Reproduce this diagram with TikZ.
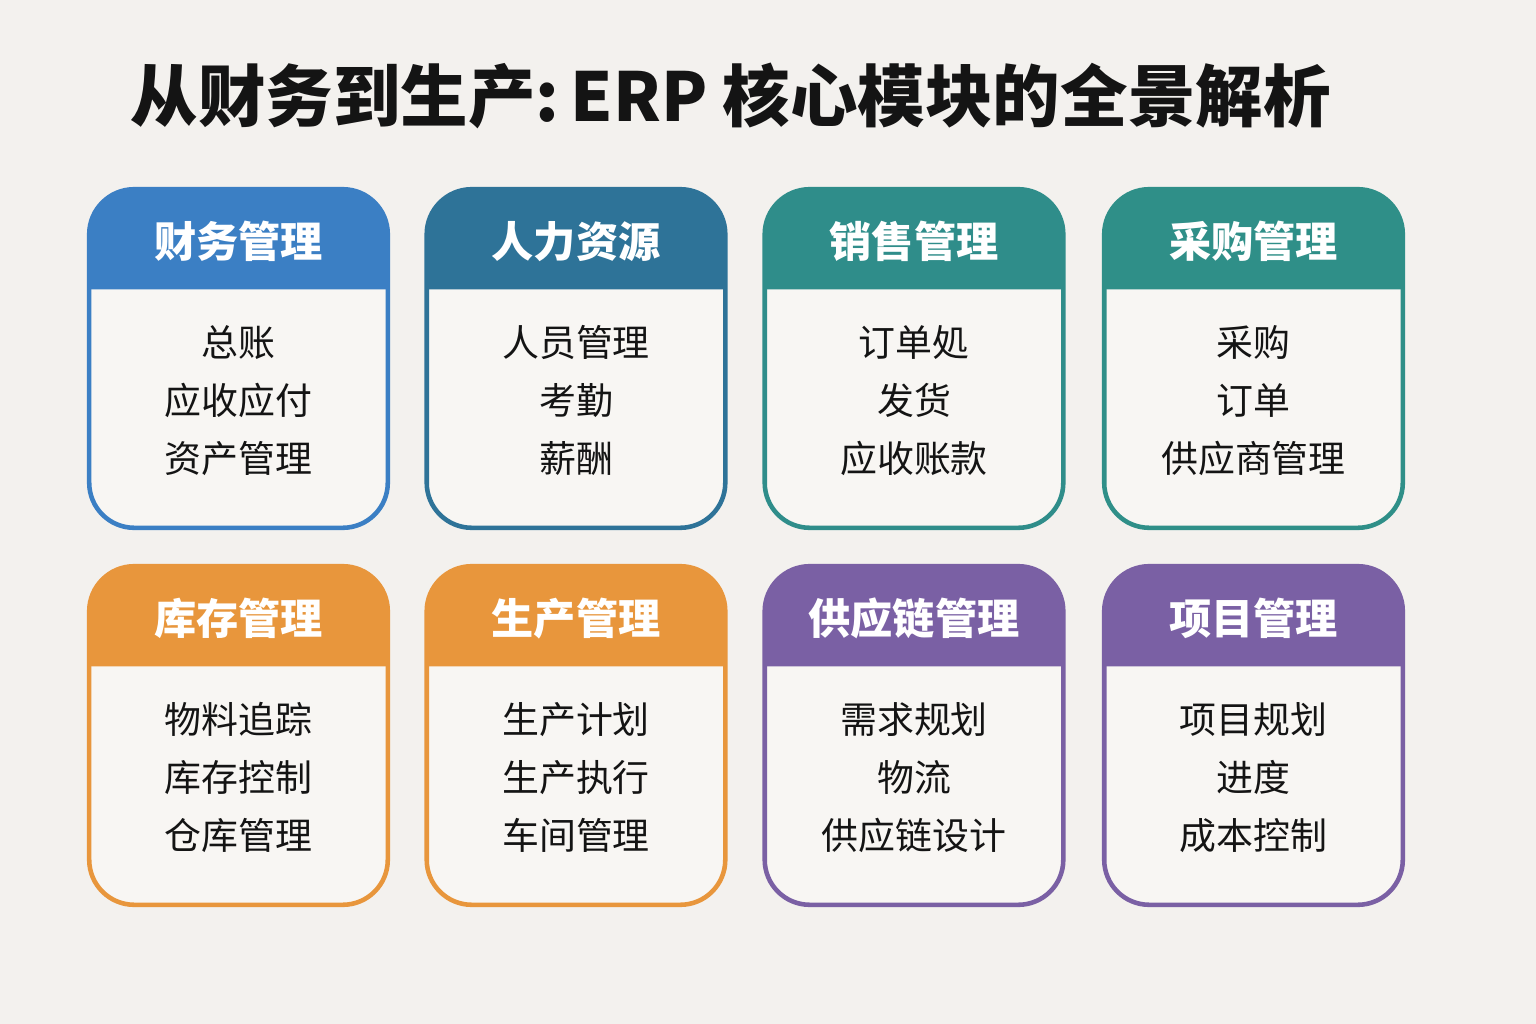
\documentclass[tikz,border=0pt]{standalone}
\usepackage{fontspec}
\newfontfamily\cjk{Noto Sans CJK SC}

\definecolor{pagebg}{HTML}{F3F1EE}
\definecolor{cardbg}{HTML}{F8F6F3}
\definecolor{cfin}{HTML}{3B7FC4}
\definecolor{chr}{HTML}{2E7398}
\definecolor{csale}{HTML}{2F8D8A}
\definecolor{cbuy}{HTML}{2F8F88}
\definecolor{corange}{HTML}{E8963C}
\definecolor{cpurple}{HTML}{7A60A4}
\definecolor{inkc}{HTML}{141414}

\begin{document}
\begin{tikzpicture}[x=0.01cm,y=-0.01cm,
    card/.style={rectangle, rounded corners=0.45cm, minimum width=2.97cm,
        minimum height=3.37cm, fill=cardbg, inner sep=0pt},
    headtext/.style={text=white, font=\cjk\bfseries\fontsize{12}{14}\selectfont},
    itemtext/.style={text=inkc, align=center, font=\cjk\fontsize{10.5}{16.5}\selectfont},
    titletext/.style={text=inkc, inner sep=0pt, font=\cjk\bfseries\fontsize{19.2}{23}\selectfont}]

    \useasboundingbox[fill=pagebg] (0,0) rectangle (1536,1024);

    \node[titletext, anchor=west] (title) at (130,96) {从财务到生产:\,ERP 核心模块的全景解析};

    % eight module cards
    \foreach \n/\cx/\ty/\c/\h/\items in {
        fin/238.5/190/cfin/财务管理/{总账\\应收应付\\资产管理},
        hr/576/190/chr/人力资源/{人员管理\\考勤\\薪酬},
        sale/914/190/csale/销售管理/{订单処\\发货\\应收账款},
        buy/1253.5/190/cbuy/采购管理/{采购\\订单\\供应商管理},
        stock/238.5/567/corange/库存管理/{物料追踪\\库存控制\\仓库管理},
        prod/576/567/corange/生产管理/{生产计划\\生产执行\\车间管理},
        chain/914/567/cpurple/供应链管理/{需求规划\\物流\\供应链设计},
        proj/1253.5/567/cpurple/项目管理/{项目规划\\进度\\成本控制}}
    {
        \node[card] (\n) at (\cx,\ty+168.5) {};
        \fill[\c] ([yshift=-1cm]\n.north west) [rounded corners=0.45cm] -- (\n.north west)
            -- (\n.north east) [sharp corners] -- ([yshift=-1cm]\n.north east) -- cycle;
        \draw[\c, line width=1.3pt, rounded corners=0.45cm] (\n.north west) rectangle (\n.south east);
        \node[headtext] (\n-h) at ([yshift=-0.52cm]\n.north) {\h};
        \node[itemtext] (\n-i) at ([yshift=-2.11cm]\n.north) {\items};
    }

\end{tikzpicture}
\end{document}
